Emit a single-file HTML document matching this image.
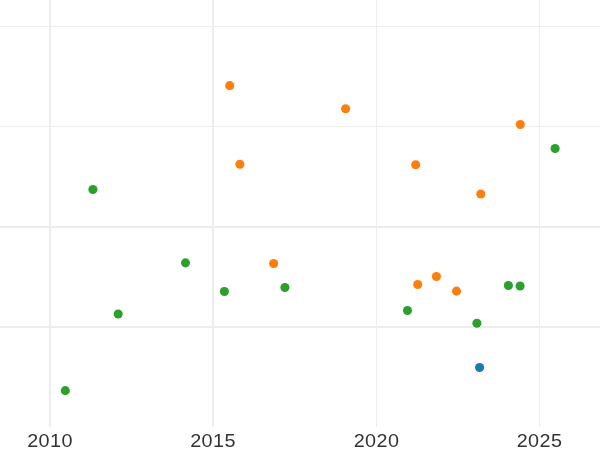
<!DOCTYPE html>
<html>
<head>
<meta charset="utf-8">
<title>Scatter</title>
<style>
html,body{margin:0;padding:0;background:#ffffff;}
body{width:600px;height:450px;overflow:hidden;}
svg{display:block;}
text{font-family:"Liberation Sans",sans-serif;font-size:19.2px;fill:#333333;text-anchor:middle;letter-spacing:0.47px;}
</style>
</head>
<body>
<svg width="600" height="450" viewBox="0 0 600 450">
<rect x="0" y="0" width="600" height="450" fill="#ffffff"/>
<g fill="#ededed" shape-rendering="crispEdges">
<rect x="0" y="26" width="600" height="1"/>
<rect x="0" y="126" width="600" height="1"/>
<rect x="0" y="226" width="600" height="2"/>
<rect x="0" y="326" width="600" height="2"/>
<rect x="49" y="0" width="2" height="427"/>
<rect x="212" y="0" width="2" height="427"/>
<rect x="376" y="0" width="1" height="427"/>
<rect x="539" y="0" width="1" height="427"/>
</g>
<g>
<circle cx="92.9" cy="189.55" r="5.25" fill="#ffffff"/><circle cx="92.9" cy="189.55" r="4.55" fill="#2ca02c"/>
<circle cx="555.1" cy="148.45" r="5.25" fill="#ffffff"/><circle cx="555.1" cy="148.45" r="4.55" fill="#2ca02c"/>
<circle cx="185.5" cy="262.85" r="5.25" fill="#ffffff"/><circle cx="185.5" cy="262.85" r="4.55" fill="#2ca02c"/>
<circle cx="224.4" cy="291.45" r="5.25" fill="#ffffff"/><circle cx="224.4" cy="291.45" r="4.55" fill="#2ca02c"/>
<circle cx="284.9" cy="287.55" r="5.25" fill="#ffffff"/><circle cx="284.9" cy="287.55" r="4.55" fill="#2ca02c"/>
<circle cx="118.2" cy="314.05" r="5.25" fill="#ffffff"/><circle cx="118.2" cy="314.05" r="4.55" fill="#2ca02c"/>
<circle cx="407.5" cy="310.55" r="5.25" fill="#ffffff"/><circle cx="407.5" cy="310.55" r="4.55" fill="#2ca02c"/>
<circle cx="476.9" cy="323.20" r="5.25" fill="#ffffff"/><circle cx="476.9" cy="323.20" r="4.55" fill="#2ca02c"/>
<circle cx="508.4" cy="285.55" r="5.25" fill="#ffffff"/><circle cx="508.4" cy="285.55" r="4.55" fill="#2ca02c"/>
<circle cx="520.1" cy="285.95" r="5.25" fill="#ffffff"/><circle cx="520.1" cy="285.95" r="4.55" fill="#2ca02c"/>
<circle cx="65.3" cy="390.65" r="5.25" fill="#ffffff"/><circle cx="65.3" cy="390.65" r="4.55" fill="#2ca02c"/>
<circle cx="229.7" cy="85.65" r="5.25" fill="#ffffff"/><circle cx="229.7" cy="85.65" r="4.55" fill="#ff7f0e"/>
<circle cx="345.6" cy="108.75" r="5.25" fill="#ffffff"/><circle cx="345.6" cy="108.75" r="4.55" fill="#ff7f0e"/>
<circle cx="520.3" cy="124.45" r="5.25" fill="#ffffff"/><circle cx="520.3" cy="124.45" r="4.55" fill="#ff7f0e"/>
<circle cx="239.9" cy="164.25" r="5.25" fill="#ffffff"/><circle cx="239.9" cy="164.25" r="4.55" fill="#ff7f0e"/>
<circle cx="415.7" cy="164.75" r="5.25" fill="#ffffff"/><circle cx="415.7" cy="164.75" r="4.55" fill="#ff7f0e"/>
<circle cx="480.8" cy="194.05" r="5.25" fill="#ffffff"/><circle cx="480.8" cy="194.05" r="4.55" fill="#ff7f0e"/>
<circle cx="273.6" cy="263.45" r="5.25" fill="#ffffff"/><circle cx="273.6" cy="263.45" r="4.55" fill="#ff7f0e"/>
<circle cx="417.7" cy="284.55" r="5.25" fill="#ffffff"/><circle cx="417.7" cy="284.55" r="4.55" fill="#ff7f0e"/>
<circle cx="436.4" cy="276.55" r="5.25" fill="#ffffff"/><circle cx="436.4" cy="276.55" r="4.55" fill="#ff7f0e"/>
<circle cx="456.5" cy="291.15" r="5.25" fill="#ffffff"/><circle cx="456.5" cy="291.15" r="4.55" fill="#ff7f0e"/>
<circle cx="479.6" cy="367.45" r="5.25" fill="#ffffff"/><circle cx="479.6" cy="367.45" r="4.55" fill="#1f77b4"/>
</g>
<g id="lbl" style="will-change:transform" opacity="0.999">
<text transform="translate(50.1 447) scale(1.03 1)">2010</text>
<text transform="translate(213.1 447) scale(1.03 1)">2015</text>
<text transform="translate(376.6 447) scale(1.03 1)">2020</text>
<text transform="translate(539.6 447) scale(1.03 1)">2025</text>
</g>
</svg>
</body>
</html>
